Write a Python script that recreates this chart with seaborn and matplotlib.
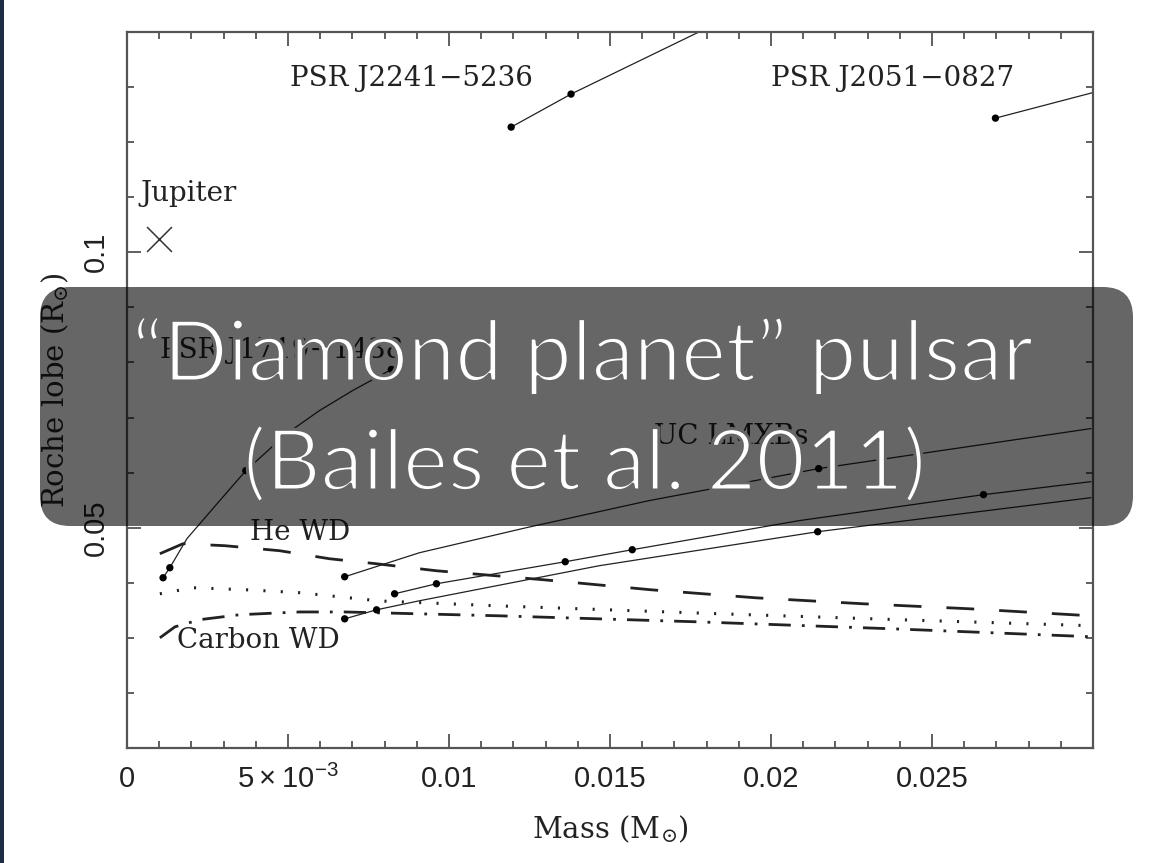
import numpy as np
import pandas as pd
import matplotlib
matplotlib.use("Agg")
import matplotlib.pyplot as plt
import matplotlib.patheffects as pe
from matplotlib.ticker import MultipleLocator
from matplotlib.patches import FancyBboxPatch, Rectangle
import seaborn as sns

sns.set_style("ticks")
plt.rcParams['font.family'] = ['DejaVu Serif']
plt.rcParams['mathtext.fontset'] = 'custom'
plt.rcParams['mathtext.rm'] = 'DejaVu Serif'
plt.rcParams['mathtext.sf'] = 'Liberation Sans'
plt.rcParams['lines.scale_dashes'] = False

# ---------------- data ----------------
j2241_x = [0.01193, 0.01379, 0.01776, 0.0190]
j2241_y = [0.12273, 0.12873, 0.1400, 0.1432]
j2241_dot_x = [0.01193, 0.01379]
j2241_dot_y = [0.12273, 0.12873]

j2051_x = [0.02697, 0.02994, 0.0310]
j2051_y = [0.12436, 0.12891, 0.1305]
j2051_dot_x = [0.02697]
j2051_dot_y = [0.12436]

jupiter_x = [0.00099]
jupiter_y = [0.1025]

j1719_x = [0.00112, 0.00133, 0.00186, 0.00288, 0.00369, 0.00496, 0.00598, 0.00701, 0.00821]
j1719_y = [0.04091, 0.04273, 0.04800, 0.05491, 0.06036, 0.06709, 0.07127, 0.07491, 0.07873]
j1719_dot_x = [0.00112, 0.00133, 0.00369, 0.00821]
j1719_dot_y = [0.04091, 0.04273, 0.06036, 0.07873]

uc1_x = [0.00676, 0.00908, 0.01240, 0.01621, 0.02148, 0.02994]
uc1_y = [0.04109, 0.04545, 0.05000, 0.05491, 0.06073, 0.06800]
uc1_dot_x = [0.00676, 0.02148]
uc1_dot_y = [0.04109, 0.06073]

uc2_x = [0.00831, 0.00961, 0.01361, 0.01569, 0.02086, 0.02660, 0.02994]
uc2_y = [0.03800, 0.03982, 0.04382, 0.04600, 0.05127, 0.05600, 0.05836]
uc2_dot_x = [0.00831, 0.00961, 0.01361, 0.01569, 0.02660]
uc2_dot_y = [0.03800, 0.03982, 0.04382, 0.04600, 0.05600]

uc3_x = [0.00676, 0.00775, 0.00908, 0.01466, 0.02145, 0.02994]
uc3_y = [0.03345, 0.03509, 0.03673, 0.04309, 0.04927, 0.05545]
uc3_dot_x = [0.00676, 0.00775, 0.02145]
uc3_dot_y = [0.03345, 0.03509, 0.04927]

hewd_x = [0.00102, 0.00174, 0.00304, 0.00474, 0.00629, 0.00775, 0.00961, 0.01293,
          0.01627, 0.01953, 0.02288, 0.02619, 0.02994]
hewd_y = [0.04527, 0.04709, 0.04673, 0.04582, 0.04436, 0.04345, 0.04218, 0.04055,
          0.03873, 0.03727, 0.03618, 0.03527, 0.03400]

dot_x = [0.00102, 0.00205, 0.00381, 0.00536, 0.00784, 0.01156, 0.01776, 0.02396, 0.02994]
dot_y = [0.0380, 0.0391, 0.0387, 0.0382, 0.0367, 0.0358, 0.0345, 0.0333, 0.0322]

cwd_x = [0.00102, 0.00149, 0.00226, 0.00350, 0.00536, 0.00676, 0.01156, 0.01776, 0.02396, 0.02994]
cwd_y = [0.0300, 0.0320, 0.0333, 0.0342, 0.0347, 0.0347, 0.0340, 0.0329, 0.0316, 0.0302]

xtick_vals = [0, 0.005, 0.01, 0.015, 0.02, 0.025]
xtick_labels = ['0', r'$\mathsf{5\times10^{-3}}$', '0.01', '0.015', '0.02', '0.025']
ytick_vals = [0.05, 0.1]
ytick_labels = ['0.05', '0.1']

labels = [
    ("PSR J2241\u22125236", 0.00505, 0.1316),
    ("PSR J2051\u22120827", 0.0200, 0.1316),
    ("Jupiter", 0.0004, 0.1107),
    ("PSR J1719\u22121438", 0.00102, 0.0822),
    ("UC LMXBs", 0.01637, 0.0665),
    ("He WD", 0.00381, 0.0491),
    ("Carbon WD", 0.00155, 0.0295),
]

# ---------------- figure ----------------
W, H = 1162, 863
fig = plt.figure(figsize=(W / 100, H / 100), dpi=100)
fig.patch.set_facecolor('white')
ax = fig.add_axes([127 / W, 1 - 748 / H, (1093 - 127) / W, (748 - 32) / H])

lc = '#222222'
solid_tracks = [(j2241_x, j2241_y), (j2051_x, j2051_y), (j1719_x, j1719_y),
                (uc1_x, uc1_y), (uc2_x, uc2_y), (uc3_x, uc3_y)]
for xs, ys in solid_tracks:
    sns.lineplot(x=xs, y=ys, ax=ax, color=lc, lw=0.9, sort=False, estimator=None)

sns.lineplot(x=hewd_x, y=hewd_y, ax=ax, color=lc, lw=2.0, sort=False, estimator=None,
             linestyle=(0, (20, 18)))
sns.lineplot(x=dot_x, y=dot_y, ax=ax, color=lc, lw=2.2, sort=False, estimator=None,
             linestyle=(0, (1.5, 11)))
sns.lineplot(x=cwd_x, y=cwd_y, ax=ax, color=lc, lw=2.0, sort=False, estimator=None,
             linestyle=(0, (16, 8, 2, 8)))

all_dx = j2241_dot_x + j2051_dot_x + j1719_dot_x + uc1_dot_x + uc2_dot_x + uc3_dot_x
all_dy = j2241_dot_y + j2051_dot_y + j1719_dot_y + uc1_dot_y + uc2_dot_y + uc3_dot_y
sns.scatterplot(x=all_dx, y=all_dy, ax=ax, color='black', s=28, edgecolor='none', zorder=3)
sns.scatterplot(x=jupiter_x, y=jupiter_y, ax=ax, color='#333333', marker='x', s=320,
                linewidth=1.1, zorder=3)

for txt, tx, ty in labels:
    ax.text(tx, ty, txt, fontsize=20, color='#222222', ha='left', va='center',
            family='DejaVu Serif')

ax.set_xlim(0, 0.03)
ax.set_ylim(0.01, 0.14)
ax.set_xticks(xtick_vals)
ax.set_xticklabels(xtick_labels, family='Liberation Sans', fontsize=21, color='#222222')
ax.set_yticks(ytick_vals)
ax.set_yticklabels(ytick_labels, family='Liberation Sans', fontsize=21, color='#222222',
                   rotation=90, va='center')
ax.xaxis.set_minor_locator(MultipleLocator(0.001))
ax.yaxis.set_minor_locator(MultipleLocator(0.01))
ax.tick_params(which='both', direction='in', top=True, right=True, color='#444444')
ax.tick_params(which='major', length=10, width=1.2, pad=12)
ax.tick_params(which='minor', length=5, width=1.2)
for s in ax.spines.values():
    s.set_color('#555555')
    s.set_linewidth(1.6)

ax.set_xlabel(r'$\mathrm{Mass\ (M_{\odot})}$', fontsize=21, color='#222222', labelpad=14)
ax.set_ylabel(r'$\mathrm{Roche\ lobe\ (R_{\odot})}$', fontsize=21, color='#222222', labelpad=8)

# ---------------- overlay ----------------
box = FancyBboxPatch((40, H - 526), 1093, 239, boxstyle='round,pad=0,rounding_size=30',
                     transform=None, facecolor='black', alpha=0.6, edgecolor='none', zorder=10)
fig.add_artist(box)
thin = [pe.Normal(), pe.Stroke(linewidth=2.2, foreground='#666666')]
fig.text(583 / W, 1 - 381 / H, '\u201cDiamond planet\u201d pulsar', color='white', fontsize=61,
         family='Lato', weight='normal', ha='center', va='baseline', zorder=11,
         path_effects=thin)
fig.text(585 / W, 1 - 490 / H, '(Bailes et al. 2011)', color='white', fontsize=61,
         family='Lato', weight='normal', ha='center', va='baseline', zorder=11,
         path_effects=thin)

fig.add_artist(Rectangle((0, 0), 4 / W, 1, transform=fig.transFigure,
                         facecolor='#1f2d44', edgecolor='none', zorder=12))

fig.savefig('out.png', dpi=100)
